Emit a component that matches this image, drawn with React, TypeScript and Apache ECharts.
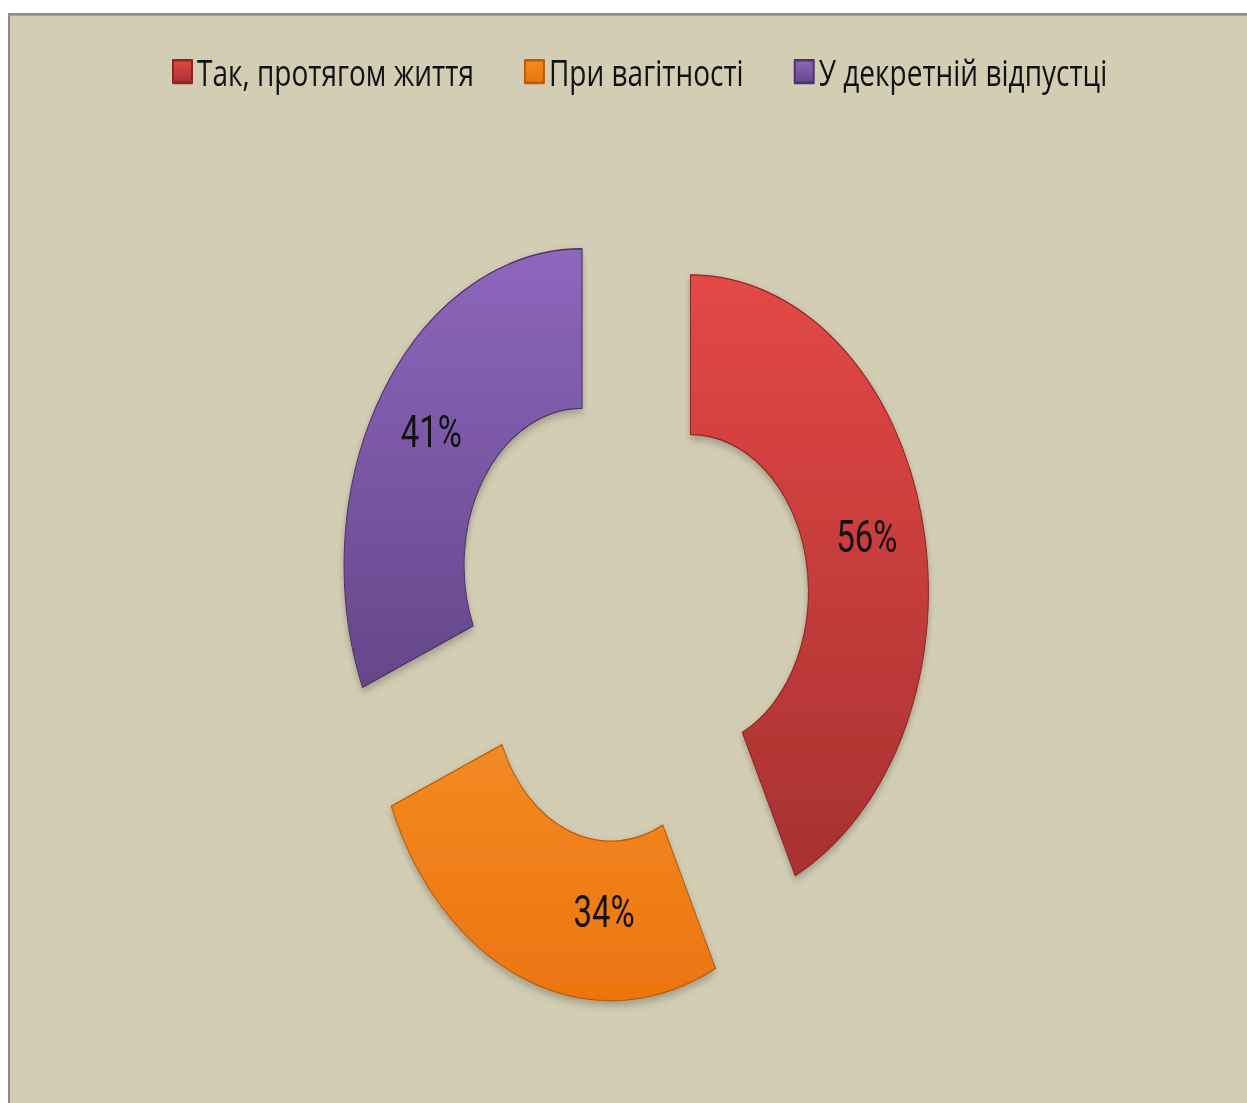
import React, { useEffect, useRef } from "react";
import * as echarts from "echarts";

const categories = ["Так, протягом життя", "При вагітності", "У декретній відпустці"];
const values = [56, 34, 41];
const labelTexts = ["56%", "34%", "41%"];
const colorsTop = ["#e34846", "#f38a22", "#8d67bc"];
const colorsBottom = ["#a83131", "#ec7510", "#65478a"];
const borderColors = ["#8a2626", "#b85d0c", "#4c3468"];

const SCALE_Y = 1.33;

export default function App() {
  const ref = useRef<HTMLDivElement>(null);

  useEffect(() => {
    const chart = echarts.init(ref.current!, null, { renderer: "svg" });
    const data = categories.map((name, i) => ({
      name,
      value: values[i],
      selected: true,
      itemStyle: {
        color: new echarts.graphic.LinearGradient(0, 0, 0, 1, [
          { offset: 0, color: colorsTop[i] },
          { offset: 1, color: colorsBottom[i] },
        ]),
        borderColor: borderColors[i],
        borderWidth: 1,
      },
    }));
    chart.setOption({
      animation: false,
      backgroundColor: "transparent",
      color: colorsTop,
      legend: {
        data: categories,
        left: 162,
        top: 28,
        padding: 0,
        itemWidth: 19,
        itemHeight: 17,
        itemGap: 50,
        icon: "rect",
        selectedMode: false,
        textStyle: {
          fontFamily: "Open Sans",
          fontSize: 28,
          color: "#111",
        },
      },
      series: [
        {
          type: "pie",
          center: [622, 446.5],
          radius: [118, 238],
          startAngle: 90,
          clockwise: true,
          selectedMode: "multiple",
          selectedOffset: 60,
          emphasis: { disabled: true },
          itemStyle: {
            shadowBlur: 6,
            shadowColor: "rgba(0,0,0,0.25)",
            shadowOffsetY: 3,
          },
          label: {
            show: true,
            position: "inside",
            fontFamily: "Roboto",
            fontSize: 33,
            color: "#111",
            formatter: (p: any) => labelTexts[p.dataIndex],
          },
          labelLine: { show: false },
          labelLayout: (p: any) => (p.dataIndex === 1 ? { dx: 57, dy: 2 } : {}),
          data,
        },
      ],
    });
    return () => chart.dispose();
  }, []);

  return (
    <div
      style={{
        position: "fixed",
        left: 0,
        top: 0,
        width: 1247,
        height: 1103,
        overflow: "hidden",
        background: "#ffffff",
      }}
    >
      <div
        style={{
          position: "absolute",
          left: 8,
          top: 13,
          width: 1245,
          height: 840,
          boxSizing: "border-box",
          transform: `scaleY(${SCALE_Y})`,
          transformOrigin: "0 0",
          background: "#d3cdb4",
          borderTop: "2px solid #8d8d8d",
          borderLeft: "2px solid #8d8d8d",
        }}
      >
        <div ref={ref} style={{ width: 1243, height: 838 }} />
      </div>
    </div>
  );
}
